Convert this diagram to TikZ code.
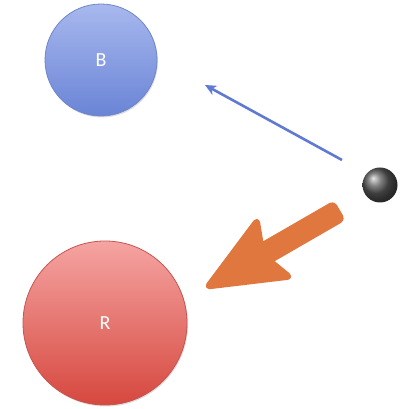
\documentclass[tikz,border=0pt]{standalone}
\usepackage{fontspec}
\setmainfont{Carlito}
\usetikzlibrary{arrows.meta,shadows}
\definecolor{bluetop}{HTML}{A8B8EE}
\definecolor{bluebottom}{HTML}{6A84D6}
\definecolor{blueline}{HTML}{6F86C8}
\definecolor{redtop}{HTML}{F5A4A2}
\definecolor{redbottom}{HTML}{D6483F}
\definecolor{redline}{HTML}{C8534F}
\definecolor{orangearrow}{HTML}{E0773E}
\definecolor{bluearrow}{HTML}{6079D2}
\begin{document}
\begin{tikzpicture}[x=1pt,y=1pt]
    \useasboundingbox (0,0) rectangle (401,409);
    \tikzset{
        disc/.style={circle, draw, line width=0.8pt, text=white,
            font=\fontsize{20}{20}\selectfont,
            drop shadow={shadow xshift=1pt, shadow yshift=-1.5pt, opacity=0.25}},
    }
    % the two discs and the ball
    \node[disc, draw=blueline, top color=bluetop, bottom color=bluebottom,
        minimum size=112pt] (B) at (101,349) {B};
    \node[disc, draw=redline, top color=redtop, bottom color=redbottom,
        minimum size=164pt] (R) at (105,86) {R};
    \node[circle, shading=ball, ball color=black!65, minimum size=35pt, inner sep=0pt] (ball) at (380,224) {};
    % free ends of the two arrows
    \coordinate (blueA) at (342,249);
    \coordinate (blueB) at (205,324);
    \coordinate (tip) at (207,122);
    \draw[bluearrow, line width=2.6pt, -{Stealth[length=11pt,width=10pt,inset=3pt]}] (blueA) -- (blueB);
    % thick orange arrow
    \begin{scope}[shift={(tip)}, rotate=210]
        \fill[orangearrow, draw=orangearrow, line width=5pt, line join=round, rounded corners=3pt]
            (0,0) -- (-77,33) -- (-68,9) -- (-151,9) -- (-151,-9) -- (-68,-9) -- (-77,-33) -- cycle;
    \end{scope}
\end{tikzpicture}
\end{document}
